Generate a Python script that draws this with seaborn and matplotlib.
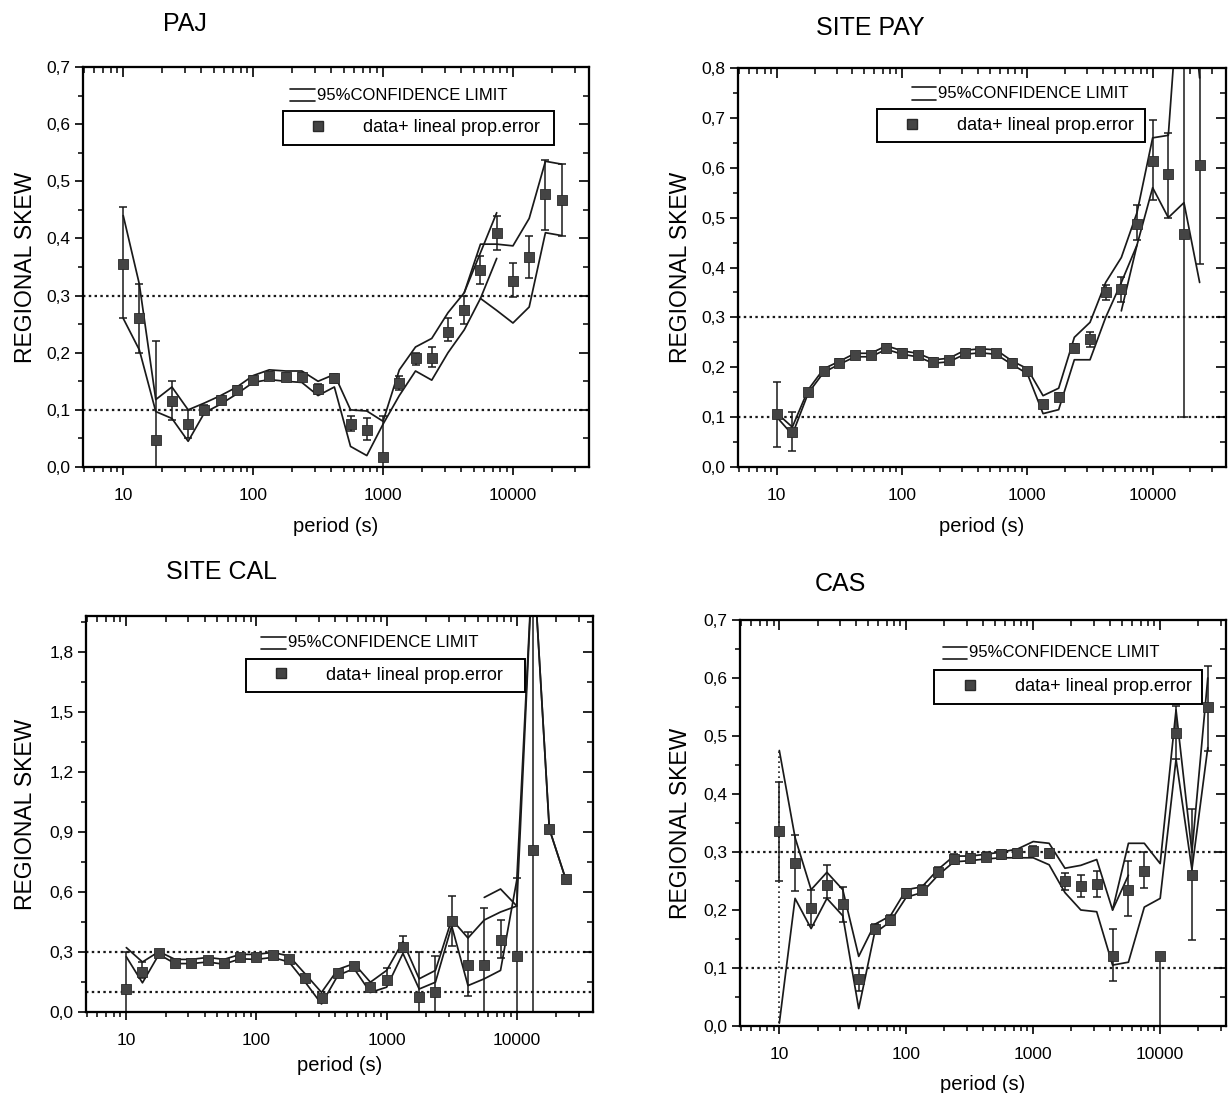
import numpy as np
import matplotlib
matplotlib.use("Agg")
import matplotlib.pyplot as plt
import seaborn as sns
from matplotlib.ticker import FixedLocator, FixedFormatter, FuncFormatter, MultipleLocator, LogLocator, NullFormatter
from matplotlib.legend_handler import HandlerBase
from matplotlib.lines import Line2D
from matplotlib import font_manager

# ---------------- data ----------------
PERIODS = np.array([10, 13.3, 17.8, 23.7, 31.6, 42.2, 56.2, 75.0, 100, 133, 178, 237, 316, 422,
                    562, 750, 1000, 1334, 1778, 2371, 3162, 4217, 5623, 7499, 10000, 13335, 17783, 23714])
X_TICKS = [10, 100, 1000, 10000]
X_TICK_LABELS = ["10", "100", "1000", "10000"]

# PAJ
PAJ_VAL = [0.356, 0.26, 0.047, 0.115, 0.075, 0.10, 0.117, 0.134, 0.153, 0.16, 0.158, 0.158, 0.137, 0.155,
           0.076, 0.065, 0.018, 0.147, 0.19, 0.19, 0.237, 0.275, 0.345, 0.41, 0.326, 0.368, 0.478, 0.468]
PAJ_LO = [0.26, 0.20, 0.0, 0.083, 0.05, 0.092, 0.11, 0.127, 0.146, 0.153, 0.151, 0.151, 0.128, 0.147,
          0.063, 0.048, 0.0, 0.135, 0.178, 0.175, 0.22, 0.25, 0.32, 0.38, 0.297, 0.33, 0.415, 0.405]
PAJ_HI = [0.455, 0.32, 0.22, 0.15, 0.10, 0.108, 0.125, 0.141, 0.16, 0.167, 0.165, 0.165, 0.146, 0.163,
          0.09, 0.085, 0.09, 0.16, 0.20, 0.21, 0.26, 0.30, 0.37, 0.44, 0.357, 0.405, 0.538, 0.53]
PAJ_UP = [0.44, 0.32, 0.118, 0.14, 0.10, 0.112, 0.125, 0.14, 0.16, 0.17, 0.168, 0.168, 0.15, 0.162,
          0.10, 0.098, 0.08, 0.17, 0.21, 0.225, 0.27, 0.305, 0.39, 0.39, 0.387, 0.435, 0.535, 0.53]
PAJ_LOW = [0.26, 0.205, 0.097, 0.085, 0.045, 0.095, 0.11, 0.128, 0.148, 0.153, 0.15, 0.148, 0.125, 0.14,
           0.036, 0.02, 0.075, 0.125, 0.168, 0.152, 0.20, 0.24, 0.295, 0.274, 0.252, 0.28, 0.41, 0.405]
PAJ_EXTRA = [([4217, 5623, 7499], [0.305, 0.375, 0.445]), ([5623, 7499], [0.295, 0.365])]

# SITE PAY
PAY_VAL = [0.106, 0.071, 0.15, 0.192, 0.209, 0.224, 0.224, 0.239, 0.229, 0.224, 0.211, 0.214, 0.229, 0.232,
           0.228, 0.209, 0.192, 0.126, 0.141, 0.239, 0.256, 0.35, 0.357, 0.488, 0.613, 0.587, 0.468, 0.606]
PAY_LO = [0.04, 0.033, 0.143, 0.185, 0.202, 0.217, 0.217, 0.232, 0.222, 0.217, 0.204, 0.207, 0.222, 0.225,
          0.221, 0.202, 0.185, 0.119, 0.134, 0.232, 0.24, 0.335, 0.33, 0.455, 0.535, 0.50, 0.10, 0.408]
PAY_HI = [0.17, 0.11, 0.157, 0.199, 0.216, 0.231, 0.231, 0.246, 0.236, 0.231, 0.218, 0.221, 0.236, 0.239,
          0.235, 0.216, 0.199, 0.133, 0.148, 0.246, 0.27, 0.365, 0.38, 0.525, 0.695, 0.67, 0.85, 0.82]
PAY_UP = [0.108, 0.08, 0.155, 0.197, 0.212, 0.228, 0.228, 0.243, 0.233, 0.228, 0.215, 0.218, 0.234, 0.237,
          0.235, 0.213, 0.197, 0.143, 0.158, 0.26, 0.29, 0.37, 0.42, 0.51, 0.66, 0.665, 1.10, 0.78]
PAY_LOW = [0.10, 0.065, 0.148, 0.19, 0.206, 0.221, 0.221, 0.236, 0.226, 0.221, 0.208, 0.211, 0.226, 0.229,
           0.226, 0.206, 0.187, 0.107, 0.115, 0.215, 0.215, 0.30, 0.37, 0.445, 0.56, 0.50, 0.53, 0.37]
PAY_EXTRA = [([5623, 7499], [0.313, 0.445])]

# SITE CAL
CAL_VAL = [0.115, 0.20, 0.293, 0.247, 0.247, 0.26, 0.247, 0.275, 0.273, 0.285, 0.263, 0.17, 0.068, 0.197,
           0.229, 0.124, 0.161, 0.324, 0.073, 0.102, 0.454, 0.234, 0.234, 0.361, 0.281, 0.81, 0.915, 0.666]
CAL_LO = [0.0, 0.17, 0.283, 0.237, 0.237, 0.25, 0.237, 0.265, 0.263, 0.275, 0.253, 0.16, 0.058, 0.187,
          0.219, 0.114, 0.151, 0.30, 0.0, 0.0, 0.33, 0.08, 0.0, 0.27, 0.0, 0.0, 0.905, 0.656]
CAL_HI = [0.30, 0.25, 0.303, 0.257, 0.257, 0.27, 0.257, 0.285, 0.283, 0.295, 0.273, 0.18, 0.078, 0.207,
          0.239, 0.134, 0.22, 0.38, 0.30, 0.28, 0.58, 0.40, 0.52, 0.46, 0.67, 2.10, 0.925, 0.676]
CAL_UP = [0.322, 0.25, 0.302, 0.263, 0.263, 0.273, 0.263, 0.288, 0.288, 0.298, 0.28, 0.19, 0.098, 0.213,
          0.242, 0.149, 0.208, 0.352, 0.166, 0.208, 0.463, 0.37, 0.46, 0.50, 0.53, 2.30, 0.915, 0.666]
CAL_LOW = [0.276, 0.146, 0.288, 0.242, 0.242, 0.25, 0.239, 0.266, 0.263, 0.273, 0.25, 0.149, 0.04, 0.183,
           0.217, 0.098, 0.124, 0.293, 0.115, 0.149, 0.43, 0.132, 0.166, 0.208, 0.66, 2.30, 0.915, 0.666]
CAL_EXTRA = [([5623, 7499, 10000], [0.573, 0.615, 0.53])]

# CAS
CAS_VAL = [0.337, 0.281, 0.204, 0.243, 0.211, 0.081, 0.168, 0.183, 0.229, 0.235, 0.266, 0.288, 0.289, 0.292,
           0.296, 0.298, 0.302, 0.298, 0.25, 0.241, 0.245, 0.121, 0.235, 0.267, 0.121, 0.506, 0.26, 0.55]
CAS_LO = [0.25, 0.232, 0.175, 0.22, 0.18, 0.06, 0.16, 0.175, 0.221, 0.227, 0.258, 0.28, 0.281, 0.284,
          0.288, 0.29, 0.294, 0.29, 0.235, 0.222, 0.222, 0.077, 0.19, 0.238, 0.0, 0.46, 0.148, 0.475]
CAS_HI = [0.42, 0.33, 0.235, 0.278, 0.24, 0.10, 0.176, 0.191, 0.237, 0.243, 0.274, 0.296, 0.297, 0.30,
          0.304, 0.306, 0.31, 0.306, 0.263, 0.26, 0.268, 0.168, 0.285, 0.30, 0.121, 0.552, 0.375, 0.62]
CAS_UP = [0.475, 0.325, 0.235, 0.265, 0.235, 0.12, 0.175, 0.19, 0.235, 0.24, 0.27, 0.293, 0.293, 0.296,
          0.30, 0.305, 0.318, 0.315, 0.272, 0.277, 0.287, 0.20, 0.315, 0.315, 0.28, 0.545, 0.30, 0.60]
CAS_LOW = [0.005, 0.22, 0.168, 0.22, 0.19, 0.03, 0.16, 0.18, 0.222, 0.23, 0.26, 0.283, 0.285, 0.288,
           0.29, 0.29, 0.29, 0.278, 0.23, 0.20, 0.197, 0.105, 0.11, 0.205, 0.22, 0.46, 0.27, 0.48]
CAS_EXTRA = [([4217, 5623], [0.20, 0.26])]

TITLES = ["PAJ", "SITE PAY", "SITE CAL", "CAS"]
Y_LABEL = "REGIONAL SKEW"
X_LABEL = "period (s)"
LEG_CL = "95%CONFIDENCE LIMIT"
LEG_DATA = "data+ lineal prop.error"

# ---------------- style ----------------
sns.set_theme(style="ticks", rc={"axes.edgecolor": "black", "xtick.color": "black",
                                  "ytick.color": "black", "text.color": "black",
                                  "axes.labelcolor": "black", "axes.linewidth": 1.5})
available = {f.name for f in font_manager.fontManager.ttflist}
NARROW = "Liberation Sans Narrow" in available
plt.rcParams["font.family"] = ["Liberation Sans", "DejaVu Sans"]
LEG_FAMILY = ["Liberation Sans Narrow", "Liberation Sans"] if NARROW else ["Liberation Sans"]
CL_SIZE = 15 if NARROW else 12
BOX_SIZE = 15 if NARROW else 13

W, H = 1229, 1093
fig = plt.figure(figsize=(W / 100, H / 100), dpi=100)


class TwoLines(HandlerBase):
    def create_artists(self, legend, orig_handle, xdescent, ydescent, width, height, fontsize, trans):
        l1 = Line2D([0, width], [height * 1.1, height * 1.1], color="k", lw=1.2, transform=trans)
        l2 = Line2D([0, width], [-height * 0.2, -height * 0.2], color="k", lw=1.2, transform=trans)
        return [l1, l2]


def comma(v, pos):
    return f"{v:.1f}".replace(".", ",")


def panel(rect, title, title_xy, val, lo, hi, up, low, extras, ylim, ystep, ylab_x, xlab_y, cl_pos, box,
          xmax=38500):
    ax = fig.add_axes(rect)
    val, lo, hi = np.array(val), np.array(lo), np.array(hi)
    ax.set_xscale("log")
    ax.set_xlim(4.9, xmax)
    ax.set_ylim(*ylim)
    for yy in (0.1, 0.3):
        ax.axhline(yy, color="k", ls=(0, (1.1, 1.5)), lw=1.6, zorder=1)
    sns.lineplot(x=PERIODS, y=up, estimator=None, sort=False, color="k", lw=1.25, ax=ax, legend=False)
    sns.lineplot(x=PERIODS, y=low, estimator=None, sort=False, color="k", lw=1.25, ax=ax, legend=False)
    for ex, ey in extras:
        sns.lineplot(x=ex, y=ey, estimator=None, sort=False, color="k", lw=1.25, ax=ax, legend=False)
    ax.errorbar(PERIODS, val, yerr=[val - lo, hi - val], fmt="none", ecolor="k", elinewidth=1.1,
                capsize=3, capthick=1.1, zorder=3)
    sns.scatterplot(x=PERIODS, y=val, marker="s", s=62, color="#444444", edgecolor="#2a2a2a",
                    linewidth=0.6, ax=ax, zorder=4, legend=False)

    ax.xaxis.set_major_locator(FixedLocator(X_TICKS))
    ax.xaxis.set_major_formatter(FixedFormatter(X_TICK_LABELS))
    ax.xaxis.set_minor_locator(LogLocator(base=10, subs=np.arange(2, 10)))
    ax.xaxis.set_minor_formatter(NullFormatter())
    ax.yaxis.set_major_locator(MultipleLocator(ystep))
    ax.yaxis.set_minor_locator(MultipleLocator(ystep / 2))
    ax.yaxis.set_major_formatter(FuncFormatter(comma))
    ax.tick_params(which="major", direction="out", length=6, width=1.2, labelsize=12.5, pad=3)
    ax.tick_params(axis="x", which="major", pad=9)
    ax.tick_params(which="minor", direction="out", length=3.5, width=1.1)
    for s in ax.spines.values():
        s.set_visible(True)
        s.set_linewidth(1.5)

    axt = ax.twiny()
    axt.set_xscale("log")
    axt.set_xlim(ax.get_xlim())
    axt.xaxis.set_major_locator(FixedLocator(X_TICKS))
    axt.xaxis.set_minor_locator(LogLocator(base=10, subs=np.arange(2, 10)))
    axt.xaxis.set_minor_formatter(NullFormatter())
    axt.tick_params(axis="x", which="major", direction="in", length=7, width=1.2, labeltop=False)
    axt.tick_params(axis="x", which="minor", direction="in", length=4, width=1.1)
    axr = ax.twinx()
    axr.set_ylim(ax.get_ylim())
    axr.yaxis.set_major_locator(MultipleLocator(ystep))
    axr.yaxis.set_minor_locator(MultipleLocator(ystep / 2))
    axr.tick_params(axis="y", which="major", direction="in", length=7, width=1.2, labelright=False)
    axr.tick_params(axis="y", which="minor", direction="in", length=4, width=1.1)
    for a in (axt, axr):
        for s in a.spines.values():
            s.set_linewidth(1.5)

    ax.set_ylabel(Y_LABEL, fontsize=16.5)
    ax.yaxis.set_label_coords(ylab_x, 0.5)
    ax.set_xlabel(X_LABEL, fontsize=14.5)
    ax.xaxis.set_label_coords(0.5, xlab_y)
    fig.text(title_xy[0] / W, 1 - title_xy[1] / H, title, fontsize=18, ha="center", va="center")

    cl = axr.legend(handles=[Line2D([], [], color="k")], labels=[LEG_CL], handler_map={Line2D: TwoLines()},
                    frameon=False, loc="center left", bbox_to_anchor=cl_pos, bbox_transform=ax.transAxes,
                    borderpad=0, borderaxespad=0,
                    handlelength=1.45, handletextpad=0.12, handleheight=0.5,
                    prop={"family": LEG_FAMILY, "size": CL_SIZE})
    axr.add_artist(cl)
    mk = Line2D([], [], marker="s", ls="none", color="#444444", markeredgecolor="#2a2a2a", markersize=7.5)
    lg = axr.legend(handles=[mk], labels=[LEG_DATA], frameon=True, fancybox=False, edgecolor="black",
                    framealpha=1, loc="center", bbox_to_anchor=box, bbox_transform=ax.transAxes,
                    mode="expand", borderpad=0.45, borderaxespad=0, handlelength=3.0, handletextpad=1.0,
                    prop={"family": LEG_FAMILY, "size": BOX_SIZE})
    lg.get_frame().set_linewidth(1.4)
    return ax


def rect(l, r, t, b):
    return [l / W, 1 - b / H, (r - l) / W, (b - t) / H]


panel(rect(83, 589, 67, 467), TITLES[0], (185, 24), PAJ_VAL, PAJ_LO, PAJ_HI, PAJ_UP, PAJ_LOW, PAJ_EXTRA,
      (0, 0.7), 0.1, -0.091, -0.125, (0.41, 0.93), (0.395, 0.805, 0.535, 0.085))
ax_pay = panel(rect(738, 1226, 68, 467), TITLES[1], (870, 28), PAY_VAL, PAY_LO, PAY_HI, PAY_UP, PAY_LOW,
               PAY_EXTRA, (0, 0.8), 0.1, -0.094, -0.125, (0.357, 0.937), (0.285, 0.815, 0.549, 0.08))
panel(rect(86, 593, 616, 1012), TITLES[2], (221, 572), CAL_VAL, CAL_LO, CAL_HI, CAL_UP, CAL_LOW, CAL_EXTRA,
      (0, 1.98), 0.3, -0.097, -0.11, (0.346, 0.932), (0.315, 0.81, 0.551, 0.081))
ax_cas = panel(rect(740, 1226, 620, 1026), TITLES[3], (840, 584), CAS_VAL, CAS_LO, CAS_HI, CAS_UP, CAS_LOW,
               CAS_EXTRA, (0, 0.7), 0.1, -0.099, -0.12, (0.418, 0.919), (0.40, 0.793, 0.55, 0.084),
               xmax=33000)
ax_cas.vlines(PERIODS[0], CAS_LOW[0], CAS_UP[0], colors="k", linestyles=(0, (1, 2)), lw=1.2, zorder=2)

fig.savefig("out.png", dpi=100)
